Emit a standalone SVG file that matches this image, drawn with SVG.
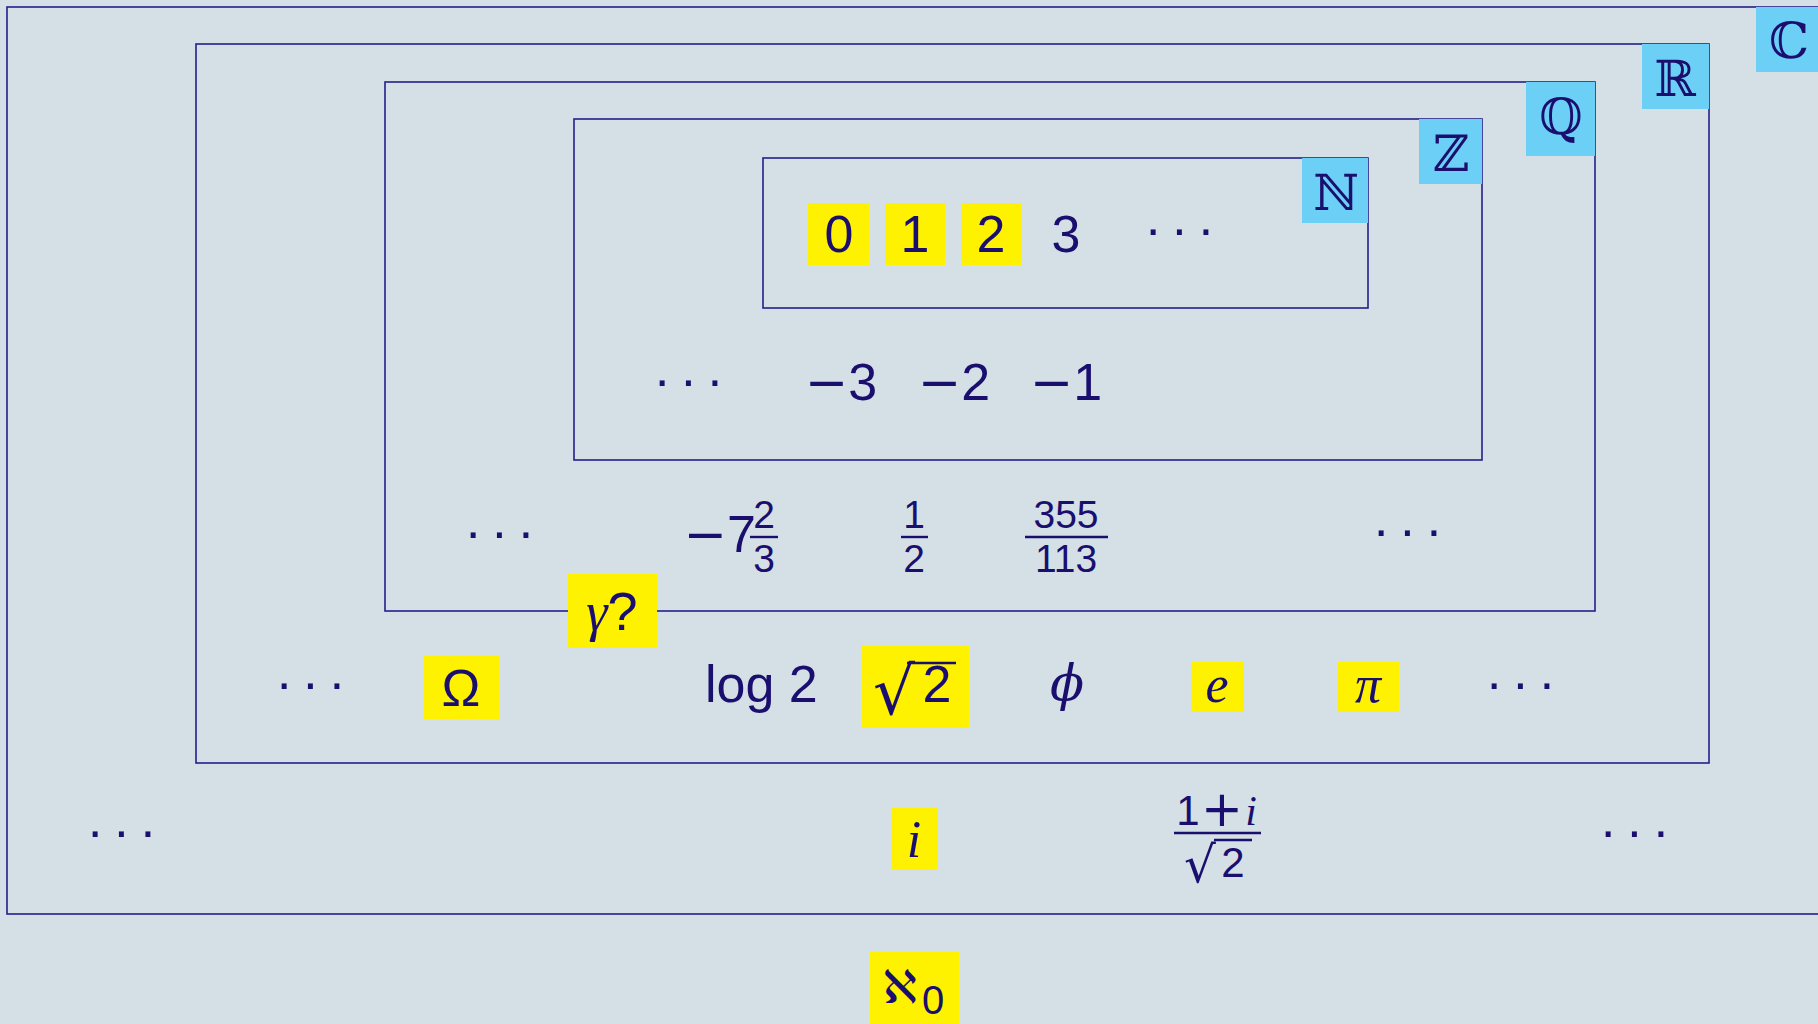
<svg xmlns="http://www.w3.org/2000/svg" width="1818" height="1024" viewBox="0 0 1818 1024">
<style>
.set{fill:none;stroke:#24208a;stroke-width:1.6}
.hl{fill:#fff200}
.lb{fill:#6ccff6}
.t{fill:#1a0f6e;font-family:"Liberation Sans","DejaVu Sans",sans-serif;text-anchor:middle}
.m{fill:#1a0f6e;font-family:"Liberation Serif","DejaVu Serif",serif;font-style:italic;text-anchor:middle}
.bb{fill:#1a0f6e;font-family:"DejaVu Serif",serif;text-anchor:middle;font-size:50px}
.d{fill:#1a0f6e;font-family:"Liberation Sans",sans-serif;text-anchor:middle;font-size:52px;letter-spacing:9px}
.rad{fill:#1a0f6e;font-family:"DejaVu Sans",sans-serif;text-anchor:middle}
.mi{font-family:"DejaVu Sans",sans-serif}
.bar{stroke:#1a0f6e;stroke-width:2.4}
</style>
<rect width="1818" height="1024" fill="#d5e0e6"/>
<g id="set-C">
<rect class="set" x="7" y="7" width="1840" height="907"/>
<rect class="lb" x="1756" y="7" width="70" height="65"/>
<text class="bb" x="1789" y="58">ℂ</text>
</g>
<g id="set-R">
<rect class="set" x="196" y="44" width="1513" height="719"/>
<rect class="lb" x="1642" y="44" width="67" height="65"/>
<text class="bb" x="1675" y="96">ℝ</text>
</g>
<g id="set-Q">
<rect class="set" x="385" y="82" width="1210" height="529"/>
<rect class="lb" x="1526" y="82" width="69" height="74"/>
<text class="bb" x="1561" y="134">ℚ</text>
</g>
<g id="set-Z">
<rect class="set" x="574" y="119" width="908" height="341"/>
<rect class="lb" x="1419" y="119" width="63" height="65"/>
<text class="bb" x="1451" y="171">ℤ</text>
</g>
<g id="set-N">
<rect class="set" x="763" y="158" width="605" height="150"/>
<rect class="lb" x="1302" y="158" width="66" height="65"/>
<text class="bb" x="1336" y="210">ℕ</text>
</g>
<g id="naturals">
<rect class="hl" x="808" y="203" width="61" height="62"/>
<rect class="hl" x="885" y="203" width="60" height="62"/>
<rect class="hl" x="961" y="203" width="60" height="62"/>
<text class="t" x="839" y="252" font-size="52">0</text>
<text class="t" x="915" y="252" font-size="52">1</text>
<text class="t" x="991" y="252" font-size="52">2</text>
<text class="t" x="1066" y="252" font-size="52">3</text>
<text class="d" x="1184" y="246">···</text>
</g>
<g id="integers">
<text class="d" x="693" y="397">···</text>
<text class="t" x="841" y="400" font-size="52"><tspan class="mi">−</tspan>3</text>
<text class="t" x="954" y="400" font-size="52"><tspan class="mi">−</tspan>2</text>
<text class="t" x="1066" y="400" font-size="52"><tspan class="mi">−</tspan>1</text>
</g>
<g id="rationals">
<text class="d" x="504" y="549">···</text>
<text class="t" x="756" y="552" font-size="52" style="text-anchor:end"><tspan class="mi">−</tspan>7</text>
<text class="t" x="764" y="528" font-size="39">2</text>
<line class="bar" x1="750" y1="537" x2="778" y2="537"/>
<text class="t" x="764" y="572" font-size="39">3</text>
<text class="t" x="914" y="528" font-size="39">1</text>
<line class="bar" x1="901" y1="537" x2="928" y2="537"/>
<text class="t" x="914" y="572" font-size="39">2</text>
<text class="t" x="1066" y="528" font-size="39">355</text>
<line class="bar" x1="1025" y1="537" x2="1108" y2="537"/>
<text class="t" x="1066" y="572" font-size="39">113</text>
<text class="d" x="1412" y="547">···</text>
</g>
<g id="gamma">
<rect class="hl" x="568" y="574" width="89" height="74"/>
<text x="612" y="630" font-size="54" class="m">γ<tspan font-style="normal" font-family="Liberation Sans, sans-serif">?</tspan></text>
</g>
<g id="reals">
<text class="d" x="315" y="700">···</text>
<rect class="hl" x="424" y="656" width="75" height="63"/>
<text class="t" x="461" y="706" font-size="52">Ω</text>
<text class="t" x="705" y="702" font-size="52" style="text-anchor:start">log 2</text>
<rect class="hl" x="862" y="646" width="107" height="82"/>
<text class="rad" x="894" y="714" font-size="66">√</text>
<line class="bar" x1="907" y1="663" x2="956" y2="663"/>
<text class="t" x="937" y="702" font-size="52">2</text>
<text class="m" x="1067" y="700" font-size="50" style="font-family:'DejaVu Serif',serif">ϕ</text>
<rect class="hl" x="1191" y="662" width="53" height="50"/>
<text class="m" x="1217" y="702" font-size="52">e</text>
<rect class="hl" x="1338" y="662" width="61" height="50"/>
<text class="m" x="1368" y="702" font-size="52">π</text>
<text class="d" x="1525" y="700">···</text>
</g>
<g id="complex">
<text class="d" x="126" y="848">···</text>
<rect class="hl" x="892" y="808" width="46" height="62"/>
<text class="m" x="914" y="857" font-size="52">i</text>
<text class="t" x="1188" y="825" font-size="42">1</text>
<text class="rad" x="1222" y="826" font-size="50">+</text>
<text class="m" x="1251" y="825" font-size="42">i</text>
<line class="bar" x1="1174" y1="833" x2="1261" y2="833"/>
<text class="rad" x="1200" y="882" font-size="50">√</text>
<line class="bar" x1="1214" y1="840" x2="1252" y2="840"/>
<text class="t" x="1233" y="877" font-size="42">2</text>
<text class="d" x="1639" y="848">···</text>
</g>
<g id="aleph">
<rect class="hl" x="870" y="952" width="89" height="72"/>
<text class="rad" x="900" y="1003" font-size="46">ℵ</text>
<text class="t" x="933" y="1014" font-size="40">0</text>
</g>
<g id="connectors"/>
</svg>
